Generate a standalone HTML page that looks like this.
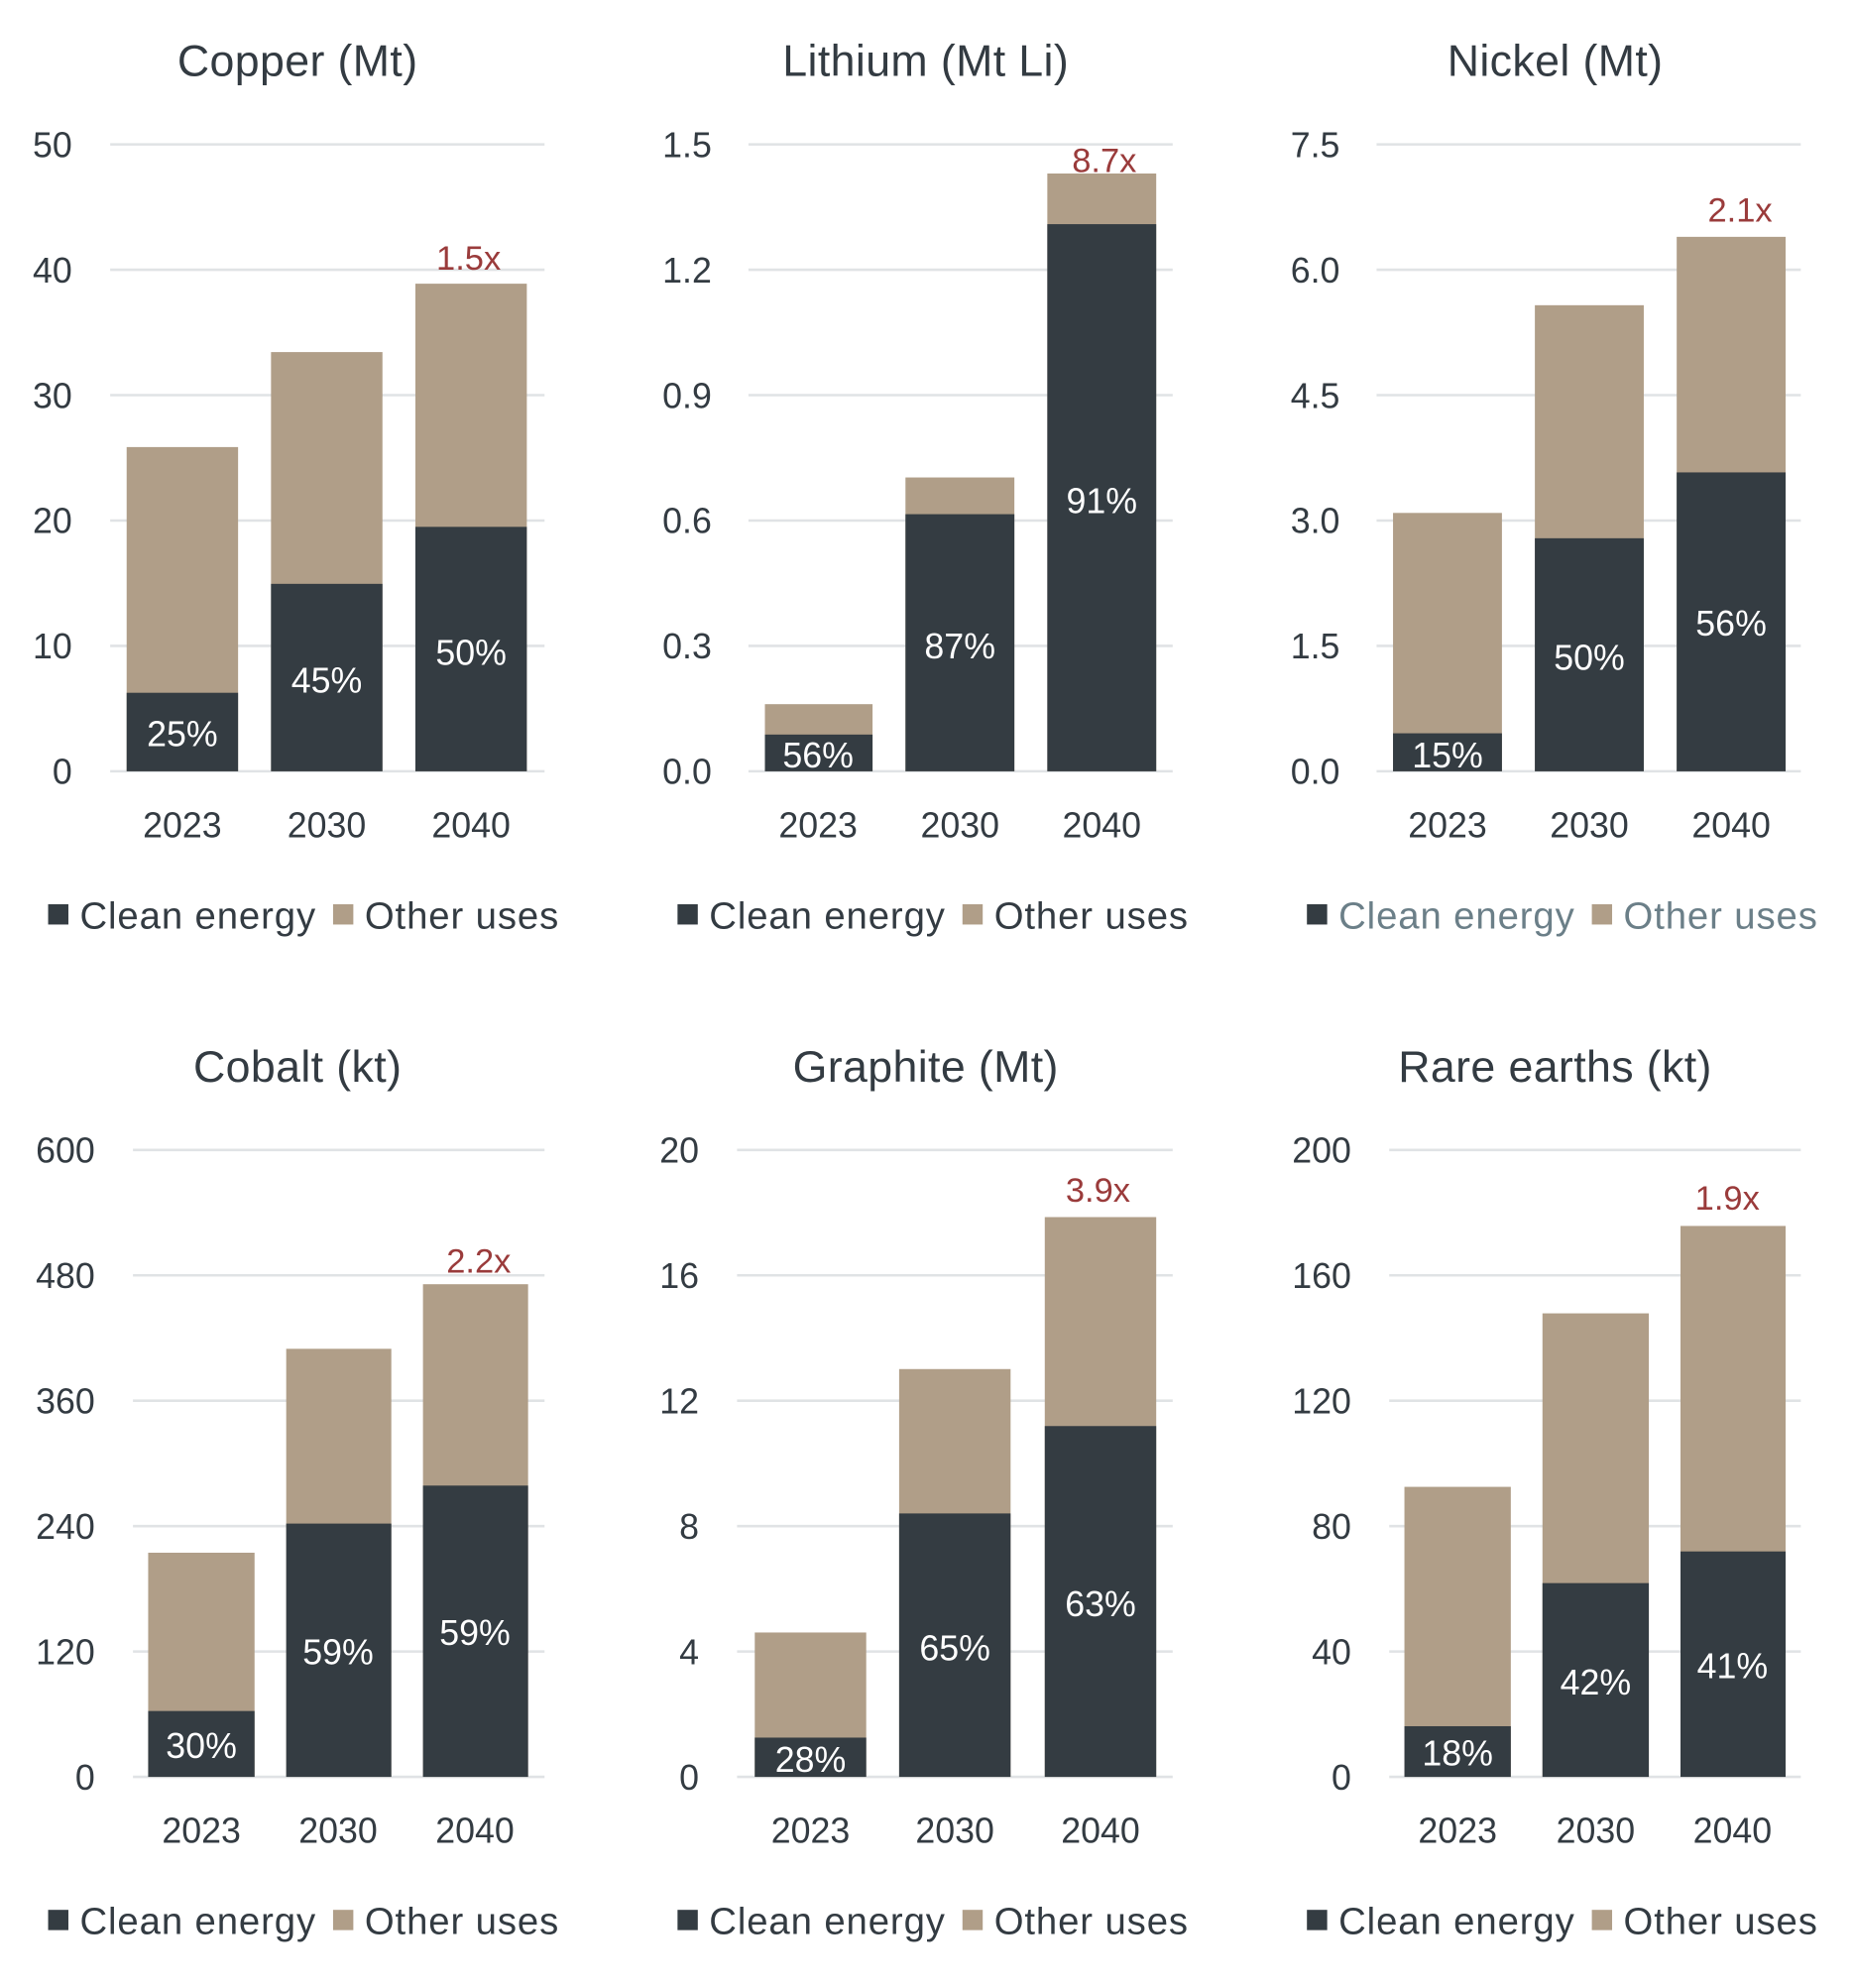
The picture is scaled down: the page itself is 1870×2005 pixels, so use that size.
<!DOCTYPE html>
<html><head><meta charset="utf-8"><style>
html,body{margin:0;padding:0;background:#fff;}
svg{display:block;}
text{font-family:"Liberation Sans",sans-serif;}
.t{font-size:35px;fill:#333b42;text-anchor:middle;letter-spacing:0.3px;}
.y{font-size:28px;fill:#333b42;text-anchor:end;}
.c{font-size:28px;fill:#333b42;text-anchor:middle;}
.p{font-size:28px;fill:#fff;text-anchor:middle;}
.r{font-size:27px;fill:#9a3b3b;text-anchor:middle;}
.l{font-size:30px;fill:#333b42;letter-spacing:0.7px;}
.g{stroke:#e0e3e5;stroke-width:2;}
.d{fill:#343c42;}
.o{fill:#b09e88;}
</style></head><body>
<svg width="1870" height="2005" viewBox="0 0 1464 1569.7" xmlns="http://www.w3.org/2000/svg">
<!-- Copper -->
<text class="t" x="235" y="60">Copper (Mt)</text>
<g class="g"><line x1="87" x2="430" y1="114" y2="114"/><line x1="87" x2="430" y1="213" y2="213"/><line x1="87" x2="430" y1="312" y2="312"/><line x1="87" x2="430" y1="411" y2="411"/><line x1="87" x2="430" y1="510" y2="510"/><line x1="87" x2="430" y1="609" y2="609"/></g>
<text class="y" x="57" y="124">50</text><text class="y" x="57" y="223">40</text><text class="y" x="57" y="322">30</text><text class="y" x="57" y="421">20</text><text class="y" x="57" y="520">10</text><text class="y" x="57" y="619">0</text>
<rect class="o" x="100" y="353" width="88" height="256"/><rect class="d" x="100" y="547" width="88" height="62"/>
<rect class="o" x="214" y="278" width="88" height="331"/><rect class="d" x="214" y="461" width="88" height="148"/>
<rect class="o" x="328" y="224" width="88" height="385"/><rect class="d" x="328" y="416" width="88" height="193"/>
<text class="p" x="144" y="589">25%</text><text class="p" x="258" y="547">45%</text><text class="p" x="372" y="525">50%</text>
<text class="r" x="370" y="213">1.5x</text>
<text class="c" x="144" y="661">2023</text><text class="c" x="258" y="661">2030</text><text class="c" x="372" y="661">2040</text>
<rect class="d" x="38" y="714" width="16" height="16"/><text class="l" x="63" y="733">Clean energy</text>
<rect class="o" x="263" y="714" width="16" height="16"/><text class="l" x="288" y="733">Other uses</text>

<!-- Lithium -->
<text class="t" x="731" y="60">Lithium (Mt Li)</text>
<g class="g"><line x1="591" x2="926" y1="114" y2="114"/><line x1="591" x2="926" y1="213" y2="213"/><line x1="591" x2="926" y1="312" y2="312"/><line x1="591" x2="926" y1="411" y2="411"/><line x1="591" x2="926" y1="510" y2="510"/><line x1="591" x2="926" y1="609" y2="609"/></g>
<text class="y" x="562" y="124">1.5</text><text class="y" x="562" y="223">1.2</text><text class="y" x="562" y="322">0.9</text><text class="y" x="562" y="421">0.6</text><text class="y" x="562" y="520">0.3</text><text class="y" x="562" y="619">0.0</text>
<rect class="o" x="604" y="556" width="85" height="53"/><rect class="d" x="604" y="580" width="85" height="29"/>
<rect class="o" x="715" y="377" width="86" height="232"/><rect class="d" x="715" y="406" width="86" height="203"/>
<rect class="o" x="827" y="137" width="86" height="472"/><rect class="d" x="827" y="177" width="86" height="432"/>
<text class="p" x="646" y="606">56%</text><text class="p" x="758" y="520">87%</text><text class="p" x="870" y="405">91%</text>
<text class="r" x="872" y="136">8.7x</text>
<text class="c" x="646" y="661">2023</text><text class="c" x="758" y="661">2030</text><text class="c" x="870" y="661">2040</text>
<rect class="d" x="535" y="714" width="16" height="16"/><text class="l" x="560" y="733">Clean energy</text>
<rect class="o" x="760" y="714" width="16" height="16"/><text class="l" x="785" y="733">Other uses</text>

<!-- Nickel -->
<text class="t" x="1228" y="60">Nickel (Mt)</text>
<g class="g"><line x1="1087" x2="1422" y1="114" y2="114"/><line x1="1087" x2="1422" y1="213" y2="213"/><line x1="1087" x2="1422" y1="312" y2="312"/><line x1="1087" x2="1422" y1="411" y2="411"/><line x1="1087" x2="1422" y1="510" y2="510"/><line x1="1087" x2="1422" y1="609" y2="609"/></g>
<text class="y" x="1058" y="124">7.5</text><text class="y" x="1058" y="223">6.0</text><text class="y" x="1058" y="322">4.5</text><text class="y" x="1058" y="421">3.0</text><text class="y" x="1058" y="520">1.5</text><text class="y" x="1058" y="619">0.0</text>
<rect class="o" x="1100" y="405" width="86" height="204"/><rect class="d" x="1100" y="579" width="86" height="30"/>
<rect class="o" x="1212" y="241" width="86" height="368"/><rect class="d" x="1212" y="425" width="86" height="184"/>
<rect class="o" x="1324" y="187" width="86" height="422"/><rect class="d" x="1324" y="373" width="86" height="236"/>
<text class="p" x="1143" y="606">15%</text><text class="p" x="1255" y="529">50%</text><text class="p" x="1367" y="502">56%</text>
<text class="r" x="1374" y="175">2.1x</text>
<text class="c" x="1143" y="661">2023</text><text class="c" x="1255" y="661">2030</text><text class="c" x="1367" y="661">2040</text>
<rect class="d" x="1032" y="714" width="16" height="16"/><text class="l" x="1057" y="733" style="fill:#6b7f88">Clean energy</text>
<rect class="o" x="1257" y="714" width="16" height="16"/><text class="l" x="1282" y="733" style="fill:#6b7f88">Other uses</text>

<!-- Cobalt -->
<text class="t" x="235" y="854">Cobalt (kt)</text>
<g class="g"><line x1="105" x2="430" y1="908" y2="908"/><line x1="105" x2="430" y1="1007" y2="1007"/><line x1="105" x2="430" y1="1106" y2="1106"/><line x1="105" x2="430" y1="1205" y2="1205"/><line x1="105" x2="430" y1="1304" y2="1304"/><line x1="105" x2="430" y1="1403" y2="1403"/></g>
<text class="y" x="75" y="918">600</text><text class="y" x="75" y="1017">480</text><text class="y" x="75" y="1116">360</text><text class="y" x="75" y="1215">240</text><text class="y" x="75" y="1314">120</text><text class="y" x="75" y="1413">0</text>
<rect class="o" x="117" y="1226" width="84" height="177"/><rect class="d" x="117" y="1351" width="84" height="52"/>
<rect class="o" x="226" y="1065" width="83" height="338"/><rect class="d" x="226" y="1203" width="83" height="200"/>
<rect class="o" x="334" y="1014" width="83" height="389"/><rect class="d" x="334" y="1173" width="83" height="230"/>
<text class="p" x="159" y="1388">30%</text><text class="p" x="267" y="1314">59%</text><text class="p" x="375" y="1299">59%</text>
<text class="r" x="378" y="1005">2.2x</text>
<text class="c" x="159" y="1455">2023</text><text class="c" x="267" y="1455">2030</text><text class="c" x="375" y="1455">2040</text>
<rect class="d" x="38" y="1508" width="16" height="16"/><text class="l" x="63" y="1527">Clean energy</text>
<rect class="o" x="263" y="1508" width="16" height="16"/><text class="l" x="288" y="1527">Other uses</text>

<!-- Graphite -->
<text class="t" x="731" y="854">Graphite (Mt)</text>
<g class="g"><line x1="582" x2="926" y1="908" y2="908"/><line x1="582" x2="926" y1="1007" y2="1007"/><line x1="582" x2="926" y1="1106" y2="1106"/><line x1="582" x2="926" y1="1205" y2="1205"/><line x1="582" x2="926" y1="1304" y2="1304"/><line x1="582" x2="926" y1="1403" y2="1403"/></g>
<text class="y" x="552" y="918">20</text><text class="y" x="552" y="1017">16</text><text class="y" x="552" y="1116">12</text><text class="y" x="552" y="1215">8</text><text class="y" x="552" y="1314">4</text><text class="y" x="552" y="1413">0</text>
<rect class="o" x="596" y="1289" width="88" height="114"/><rect class="d" x="596" y="1372" width="88" height="31"/>
<rect class="o" x="710" y="1081" width="88" height="322"/><rect class="d" x="710" y="1195" width="88" height="208"/>
<rect class="o" x="825" y="961" width="88" height="442"/><rect class="d" x="825" y="1126" width="88" height="277"/>
<text class="p" x="640" y="1399">28%</text><text class="p" x="754" y="1311">65%</text><text class="p" x="869" y="1276">63%</text>
<text class="r" x="867" y="949">3.9x</text>
<text class="c" x="640" y="1455">2023</text><text class="c" x="754" y="1455">2030</text><text class="c" x="869" y="1455">2040</text>
<rect class="d" x="535" y="1508" width="16" height="16"/><text class="l" x="560" y="1527">Clean energy</text>
<rect class="o" x="760" y="1508" width="16" height="16"/><text class="l" x="785" y="1527">Other uses</text>

<!-- Rare earths -->
<text class="t" x="1228" y="854">Rare earths (kt)</text>
<g class="g"><line x1="1097" x2="1422" y1="908" y2="908"/><line x1="1097" x2="1422" y1="1007" y2="1007"/><line x1="1097" x2="1422" y1="1106" y2="1106"/><line x1="1097" x2="1422" y1="1205" y2="1205"/><line x1="1097" x2="1422" y1="1304" y2="1304"/><line x1="1097" x2="1422" y1="1403" y2="1403"/></g>
<text class="y" x="1067" y="918">200</text><text class="y" x="1067" y="1017">160</text><text class="y" x="1067" y="1116">120</text><text class="y" x="1067" y="1215">80</text><text class="y" x="1067" y="1314">40</text><text class="y" x="1067" y="1413">0</text>
<rect class="o" x="1109" y="1174" width="84" height="229"/><rect class="d" x="1109" y="1363" width="84" height="40"/>
<rect class="o" x="1218" y="1037" width="84" height="366"/><rect class="d" x="1218" y="1250" width="84" height="153"/>
<rect class="o" x="1327" y="968" width="83" height="435"/><rect class="d" x="1327" y="1225" width="83" height="178"/>
<text class="p" x="1151" y="1394">18%</text><text class="p" x="1260" y="1338">42%</text><text class="p" x="1368" y="1325">41%</text>
<text class="r" x="1364" y="955">1.9x</text>
<text class="c" x="1151" y="1455">2023</text><text class="c" x="1260" y="1455">2030</text><text class="c" x="1368" y="1455">2040</text>
<rect class="d" x="1032" y="1508" width="16" height="16"/><text class="l" x="1057" y="1527">Clean energy</text>
<rect class="o" x="1257" y="1508" width="16" height="16"/><text class="l" x="1282" y="1527">Other uses</text>
</svg>
</body></html>
